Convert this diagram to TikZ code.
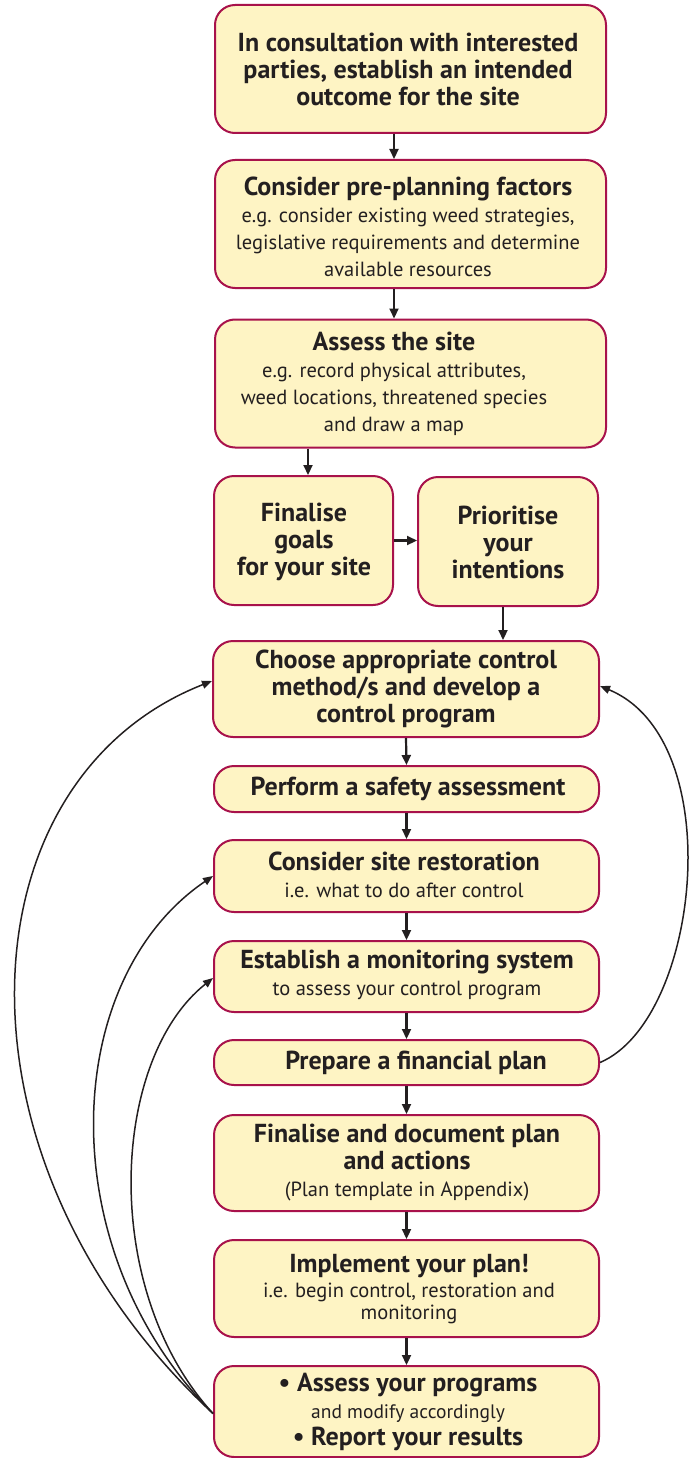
\documentclass[tikz,border=0pt]{standalone}
\usepackage{fontspec}
\setmainfont{PT Sans}
\usetikzlibrary{arrows.meta,calc}
\definecolor{boxfill}{HTML}{FEF4C4}
\definecolor{boxline}{HTML}{A8124B}
\definecolor{ink}{HTML}{231F20}
\newcommand\hd{\fontsize{26}{27}\selectfont\bfseries}
\newcommand\sbt{\fontsize{20.5}{28}\selectfont\mdseries}
\begin{document}
\begin{tikzpicture}[x=1pt,y=-1pt,
  box/.style={draw=boxline, fill=boxfill, line width=2pt, rounded corners=20pt, inner sep=0pt},
  txt/.style={align=center, inner sep=0pt, text=ink, font=\hd},
  arr/.style={draw=ink, line width=2.2pt, -{Triangle[length=10pt,width=9pt]}},
  back/.style={draw=ink, line width=1.5pt, -{Triangle[length=10pt,width=8pt]}}]
\useasboundingbox (0,0) rectangle (689,1458);

% boxes
\node[box, minimum width=391pt, minimum height=128pt] (b1) at (410.5,69) {};
\node[txt] at (408,69) {In consultation with interested\\ parties, establish an intended\\ outcome for the site};

\node[box, minimum width=391pt, minimum height=128pt] (b2) at (410.5,224) {};
\node[txt] at (408,227) {Consider pre-planning factors\\ \sbt e.g. consider existing weed strategies,\\ \sbt legislative requirements and determine\\ \sbt available resources};

\node[box, minimum width=391pt, minimum height=128pt] (b3) at (410.5,383.5) {};
\node[txt] at (394,384) {Assess the site\\ \sbt e.g. record physical attributes,\\ \sbt weed locations, threatened species\\ \sbt and draw a map};

\node[box, minimum width=179pt, minimum height=129pt] (b4a) at (303.5,540.5) {};
\node[txt] at (304,542) {Finalise\\ goals\\ for your site};

\node[box, minimum width=180pt, minimum height=129pt] (b4b) at (508,541.5) {};
\node[txt] at (508,542) {Prioritise\\ your\\ intentions};

\node[box, minimum width=386pt, minimum height=96pt] (b5) at (406,689) {};
\node[txt] at (406,689) {Choose appropriate control\\ method/s and develop a\\ control program};

\node[box, minimum width=385pt, minimum height=46pt] (b6) at (406.5,789) {};
\node[txt] at (408,789) {Perform a safety assessment};

\node[box, minimum width=385pt, minimum height=72pt] (b7) at (406.5,876) {};
\node[txt] at (404,875) {Consider site restoration\\ \sbt i.e. what to do after control};

\node[box, minimum width=385pt, minimum height=71pt] (b8) at (406.5,976.5) {};
\node[txt] at (407,975) {Establish a monitoring system\\ \sbt to assess your control program};

\node[box, minimum width=385pt, minimum height=45pt] (b9) at (406.5,1062.5) {};
\node[txt] at (416,1063) {Prepare a financial plan};

\node[box, minimum width=385pt, minimum height=96pt] (b10) at (406.5,1163) {};
\node[txt] at (407,1162) {Finalise and document plan\\ and actions\\ \sbt (Plan template in Appendix)};

\node[box, minimum width=385pt, minimum height=97pt] (b11) at (406.5,1288.5) {};
\node[txt] at (409,1289) {Implement your plan!\\[-2pt] \sbt i.e. begin control, restoration and\\[-5pt] \sbt monitoring};

\node[box, minimum width=385pt, minimum height=91pt] (b12) at (406.5,1411.5) {};
\node[txt] at (408,1412) {\textbullet\ Assess your programs\\ \fontsize{19.5}{26}\selectfont\mdseries and modify accordingly\\ \textbullet\ Report your results};

% helper x positions
\coordinate (xa) at (394,0);
\coordinate (xb) at (308,0);
\coordinate (xc) at (503,0);

% straight arrows
\draw[arr] (b1.south -| xa) -- (b2.north -| xa);
\draw[arr] (b2.south -| xa) -- (b3.north -| xa);
\draw[arr] (b3.south -| xb) -- (b4a.north -| xb);
\draw[arr] (b4a.east) -- (b4a.east -| b4b.west);
\draw[arr] (b4b.south -| xc) -- (b5.north -| xc);
\draw[arr] (b5.south) -- (b6.north);
\draw[arr] (b6.south) -- (b7.north);
\draw[arr] (b7.south) -- (b8.north);
\draw[arr] (b8.south) -- (b9.north);
\draw[arr] (b9.south) -- (b10.north);
\draw[arr] (b10.south) -- (b11.north);
\draw[arr] (b11.south) -- (b12.north);

% feedback curves
\coordinate (s) at ($(b12.west)+(0,2)$);
\draw[back] (s) .. controls (-60,1160) and (-40,780) .. ($(b5.west)+(0,-8)$);
\draw[back] (s) .. controls (50,1250) and (60,980) .. (b7.west);
\draw[back] (s) .. controls (100,1290) and (110,1060) .. ($(b8.west)+(0,1.5)$);
\draw[back] (b9.east) .. controls (700,1020) and (730,740) .. ($(b5.east)+(0,-3)$);
\end{tikzpicture}
\end{document}
